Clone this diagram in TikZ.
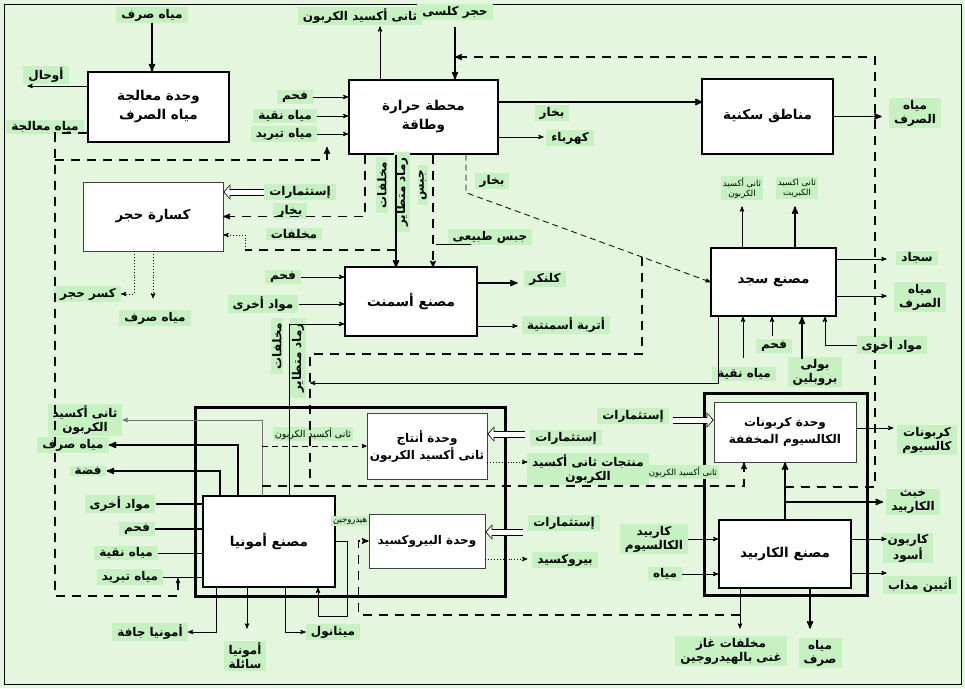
\documentclass[tikz,border=0pt]{standalone}
\usepackage{fontspec}
\newfontfamily\arabicfont[Script=Arabic]{DejaVu Sans}
\TeXXeTstate=1
\usetikzlibrary{arrows,arrows.meta}
\definecolor{bggreen}{RGB}{228,246,222}
\definecolor{lblgreen}{RGB}{198,242,194}
\newcommand{\arx}[1]{\beginR#1\endR}

\begin{document}
\begin{tikzpicture}[x=1pt,y=-1pt,>=stealth',
  plant/.style={draw,fill=white,line width=1.3pt,align=center,font=\arabicfont\bfseries\fontsize{13.5}{19}\selectfont},
  unit/.style={plant,line width=0.7pt,draw=black!75,inner xsep=2pt,font=\arabicfont\bfseries\fontsize{12}{17}\selectfont},
  cplx/.style={draw,line width=3pt},
  lbl/.style={fill=lblgreen,inner xsep=5pt,inner ysep=1.5pt,align=center,font=\arabicfont\bfseries\fontsize{12}{14}\selectfont},
  slbl/.style={lbl,inner xsep=2pt,font=\arabicfont\fontsize{8.5}{10}\selectfont},
  flow/.style={line width=0.9pt},
  heavy/.style={line width=1.6pt},
  ddash/.style={line width=1.4pt,dash pattern=on 9pt off 7pt},
  tdash/.style={line width=0.8pt,dash pattern=on 6pt off 4pt},
  dots/.style={line width=0.9pt,dotted},
  hollow/.style={line width=7pt,-{Triangle[length=7pt,width=15pt]},
    postaction={draw=white,line width=5pt,shorten >=1.2pt,-{Triangle[length=5pt,width=11.5pt]}}}]

  \useasboundingbox (0,0) rectangle (965,688);
  \fill[bggreen] (0,0) rectangle (965,688);
  \draw[line width=0.8pt] (4,4) rectangle (961,684);

  % the two plant groups
  \node[cplx,minimum width=310pt,minimum height=189pt] (ammcx) at (350,501.5) {};
  \node[cplx,minimum width=163pt,minimum height=202pt] (carbcx) at (785.5,494) {};

  % plants and units
  \node[plant,minimum width=141pt,minimum height=70pt] (wwt) at (158.5,107) {\arx{وحدة معالجة}\\\arx{مياه الصرف}};
  \node[plant,minimum width=149pt,minimum height=74pt] (ps) at (423.5,117) {\arx{محطة حرارة}\\\arx{وطاقة}};
  \node[plant,minimum width=131pt,minimum height=75pt] (res) at (767.5,116.5) {\arx{مناطق سكنية}};
  \node[unit,minimum width=140pt,minimum height=69pt,font=\arabicfont\bfseries\fontsize{13.5}{19}\selectfont] (crush) at (153,216.5) {\arx{كسارة حجر}};
  \node[plant,minimum width=132pt,minimum height=69pt] (cem) at (411,301.5) {\arx{مصنع أسمنت}};
  \node[plant,minimum width=125pt,minimum height=68pt] (sajd) at (773.5,282) {\arx{مصنع سجد}};
  \node[plant,minimum width=132pt,minimum height=91pt] (amm) at (269,541.5) {\arx{مصنع أمونيا}};
  \node[unit,minimum width=120pt,minimum height=66pt] (co2u) at (427,446) {\arx{وحدة أنتاج}\\\arx{ثانى أكسيد الكربون}};
  \node[unit,minimum width=116pt,minimum height=54pt] (peru) at (427,541) {\arx{وحدة البيروكسيد}};
  \node[unit,minimum width=142pt,minimum height=60pt] (carbu) at (785,432) {\arx{وحدة كربونات}\\\arx{الكالسيوم المخففة}};
  \node[plant,minimum width=132pt,minimum height=68pt] (carbide) at (785,554) {\arx{مصنع الكاربيد}};

  % labels
  \node[lbl] (l-wwin) at (152,15) {\arx{مياه صرف}};
  \node[lbl] (l-sludge) at (46,75) {\arx{أوحال}};
  \node[lbl] (l-treat) at (45,127) {\arx{مياه معالجة}};
  \node[lbl] (l-co2top) at (360,16) {\arx{ثانى أكسيد الكربون}};
  \node[lbl] (l-lime) at (455,12) {\arx{حجر كلسى}};
  \node[lbl] (l-pscoal) at (295,97) {\arx{فحم}};
  \node[lbl] (l-pspure) at (285,116) {\arx{مياه نقية}};
  \node[lbl] (l-pscool) at (284,134) {\arx{مياه تبريد}};
  \node[lbl] (l-steam) at (552,113) {\arx{بخار}};
  \node[lbl] (l-elec) at (570,138) {\arx{كهرباء}};
  \node[lbl] (l-resww) at (915,113) {\arx{مياه}\\\arx{الصرف}};
  \node[lbl] (l-steam2) at (492,181) {\arx{بخار}};
  \node[lbl] (l-crinv) at (300,192) {\arx{إستثمارات}};
  \node[lbl] (l-crsteam) at (290,211) {\arx{بخار}};
  \node[lbl] (l-crwaste) at (294,234) {\arx{مخلفات}};
  \node[lbl] (l-gravel) at (88,294) {\arx{كسر حجر}};
  \node[lbl] (l-crww) at (155,318) {\arx{مياه صرف}};
  \node[lbl,rotate=90] (l-vwaste) at (382,185) {\arx{مخلفات}};
  \node[lbl,rotate=90] (l-vash) at (402,192) {\arx{رماد متطاير}};
  \node[lbl,rotate=90] (l-vgyp) at (423,185) {\arx{جبس}};
  \node[lbl] (l-natgyp) at (490,237) {\arx{جبس طبيعى}};
  \node[lbl] (l-cemcoal) at (283,277) {\arx{فحم}};
  \node[lbl] (l-cemoth) at (263,304) {\arx{مواد أخرى}};
  \node[lbl] (l-clinker) at (545,279) {\arx{كلنكر}};
  \node[lbl] (l-dust) at (566,325) {\arx{أتربة أسمنتية}};
  \node[slbl] (l-sjco2) at (742,188) {\arx{ثانى أكسيد}\\\arx{الكربون}};
  \node[slbl] (l-sjso2) at (797,188) {\arx{ثانى اكسيد}\\\arx{الكبريت}};
  \node[lbl] (l-carpet) at (917,258) {\arx{سجاد}};
  \node[lbl] (l-sjww) at (920,297) {\arx{مياه}\\\arx{الصرف}};
  \node[lbl] (l-sjoth) at (892,345) {\arx{مواد أخرى}};
  \node[lbl] (l-sjcoal) at (774,346) {\arx{فحم}};
  \node[lbl] (l-sjpp) at (815,372) {\arx{بولى}\\\arx{بروبلين}};
  \node[lbl] (l-sjpure) at (744,374) {\arx{مياه نقية}};
  \node[lbl] (l-amco2) at (85,420) {\arx{ثانى أكسيد}\\\arx{الكربون}};
  \node[lbl] (l-amww) at (73,445) {\arx{مياه صرف}};
  \node[lbl] (l-silver) at (88,471) {\arx{فضة}};
  \node[lbl] (l-amoth) at (120,504) {\arx{مواد أخرى}};
  \node[lbl] (l-amcoal) at (137,529) {\arx{فحم}};
  \node[lbl] (l-ampure) at (126,553) {\arx{مياه نقية}};
  \node[lbl] (l-amcool) at (130,577) {\arx{مياه تبريد}};
  \node[lbl] (l-dryam) at (150,632) {\arx{أمونيا جافة}};
  \node[lbl] (l-liqam) at (245,656) {\arx{أمونيا}\\\arx{سائلة}};
  \node[lbl] (l-meth) at (333,632) {\arx{ميثانول}};
  \node[slbl] (l-h2) at (350,521) {\arx{هيدروجين}};
  \node[lbl,rotate=90] (l-amvwaste) at (277,346) {\arx{مخلفات}};
  \node[lbl,rotate=90] (l-amvash) at (298,358) {\arx{رماد متطاير}};
  \node[slbl,font=\arabicfont\fontsize{9.5}{11}\selectfont] (l-co2s) at (313,434) {\arx{ثانى أكسيد الكربون}};
  \node[lbl] (l-co2inv) at (566,438) {\arx{إستثمارات}};
  \node[lbl] (l-co2prod) at (588,469) {\arx{منتجات ثانى أكسيد}\\\arx{الكربون}};
  \node[slbl,font=\arabicfont\fontsize{8.5}{10}\selectfont] (l-co2s2) at (683,472) {\arx{ثانى أكسيد الكربون}};
  \node[lbl] (l-cbinv) at (633,416) {\arx{إستثمارات}};
  \node[lbl] (l-perinv) at (564,523) {\arx{إستثمارات}};
  \node[lbl] (l-perox) at (565,560) {\arx{بيروكسيد}};
  \node[lbl] (l-cac2) at (654,539) {\arx{كاربيد}\\\arx{الكالسيوم}};
  \node[lbl] (l-water) at (665,574) {\arx{مياه}};
  \node[lbl] (l-cblack) at (908,548) {\arx{كاربون}\\\arx{أسود}};
  \node[lbl] (l-acet) at (920,585) {\arx{أثيين مذاب}};
  \node[lbl] (l-slag) at (913,502) {\arx{خبث}\\\arx{الكاربيد}};
  \node[lbl] (l-caco3) at (927,440) {\arx{كربونات}\\\arx{كالسيوم}};
  \node[lbl] (l-h2gas) at (731,651) {\arx{مخلفات غاز}\\\arx{غنى بالهيدروجين}};
  \node[lbl] (l-cbww) at (820,653) {\arx{مياه}\\\arx{صرف}};

  % bends and free ends
  \coordinate (tw1) at (55,133);
  \coordinate (tw2) at (55,596);
  \coordinate (tw3) at (178,582);
  \coordinate (tw4) at (55,160);
  \coordinate (tw5) at (327,147);
  \coordinate (cw1) at (245,250);
  \coordinate (cw2) at (396,250);
  \coordinate (st1) at (642,257);
  \coordinate (st2) at (310,354);
  \coordinate (st3) at (310,486);
  \coordinate (sjo) at (310,383);
  \coordinate (cd0) at (262,446);
  \coordinate (cd1) at (262,486);
  \coordinate (cd2) at (744,486);
  \coordinate (hh) at (740,615);
  \coordinate (hl) at (347,616);
  \coordinate (sl) at (785,502);
  \coordinate (lp1) at (785,487);
  \coordinate (lp2) at (875,57);

  % waste water treatment
  \draw[->,heavy] (l-wwin.south) -- (l-wwin.south |- wwt.north);
  \draw[->,flow] ([yshift=21pt]wwt.west) -- ++(-60,0);
  \draw[ddash] ([yshift=-26pt]wwt.west) -- (tw1) -- (tw2) -| (tw3);
  \draw[->,flow] (tw3) -- ++(0,-4);
  \draw[->,ddash] (tw4) -| (tw5);

  % heat and power station
  \draw[->,flow] ([xshift=-43.5pt]ps.north) -- ++(0,-53);
  \draw[->,heavy] ([xshift=31.5pt]ps.north) ++(0,-52) -- ([xshift=31.5pt]ps.north);
  \draw[->,flow] (l-pscoal.east) -- (l-pscoal.east -| ps.west);
  \draw[->,flow] (l-pspure.east) -- (l-pspure.east -| ps.west);
  \draw[->,flow] (l-pscool.east) -- (l-pscool.east -| ps.west);
  \draw[->,heavy] ([yshift=15pt]ps.east) -- ++(204,0);
  \draw[->,flow] ([yshift=-20pt]ps.east) -- ++(45,0);
  \draw[->,heavy] (res.east) -- ++(48,0);
  \draw[->,ddash] ([xshift=-58.5pt]ps.south) |- (crush.east);
  \draw[->,heavy] ([xshift=-27.5pt]ps.south) -- ++(0,113);
  \draw[->,ddash] ([xshift=9.5pt]ps.south) -- ++(0,113);
  \draw[flow] ([xshift=-19pt]l-natgyp.south) -- ++(-35,0);
  \draw[->,tdash] ([xshift=42.5pt]ps.south) -- ++(0,38) -- (sajd.west);

  % stone crusher
  \draw[ddash] (cw2) -- (cw1);
  \draw[->,dots] (cw1) |- ([yshift=-18.5pt]crush.east);
  \draw[hollow] (l-crinv.west) -- (l-crinv.west -| crush.east);
  \draw[->,dots] ([xshift=-19pt]crush.south) |- (l-gravel.east);
  \draw[->,dots] (crush.south) -- ++(0,47);

  % cement
  \draw[->,flow] (l-cemcoal.east) -- (l-cemcoal.east -| cem.west);
  \draw[->,flow] (l-cemoth.east) -- (l-cemoth.east -| cem.west);
  \draw[->,flow] ([xshift=20pt]amm.north) |- ([yshift=-22.5pt]cem.west);
  \draw[->,heavy] ([yshift=18.5pt]cem.east) -- ++(40,0);
  \draw[->,flow] ([yshift=-24.5pt]cem.east) -- ++(40,0);
  \draw[ddash] (st1) |- (st2) -- (st3);

  % carpet plant
  \draw[->,flow] ([xshift=-31.5pt]sajd.north) -- ++(0,-41);
  \draw[->,heavy] ([xshift=21.5pt]sajd.north) -- ++(0,-41);
  \draw[->,flow] ([yshift=23pt]sajd.east) -- ++(50,0);
  \draw[->,flow] ([yshift=-14pt]sajd.east) -- ++(50,0);
  \draw[->,flow] ([xshift=-30.5pt]sajd.south) ++(0,41) -- ([xshift=-30.5pt]sajd.south);
  \draw[->,flow] ([xshift=-1.5pt]sajd.south) ++(0,19) -- ([xshift=-1.5pt]sajd.south);
  \draw[->,heavy] ([xshift=28.5pt]sajd.south) ++(0,42) -- ([xshift=28.5pt]sajd.south);
  \draw[->,flow] (l-sjoth.west) -| ([xshift=51.5pt]sajd.south);
  \draw[->,flow] ([xshift=-55.5pt]sajd.south) |- (sjo);

  % ammonia plant
  \draw[->,flow,black!55] ([xshift=-7pt]amm.north) |- (l-amco2.east);
  \draw[->,heavy] ([xshift=-31pt]amm.north) |- (l-amww.east);
  \draw[->,heavy] ([xshift=-49pt]amm.north) |- (l-silver.east);
  \draw[heavy] (l-amoth.east) -- (l-amoth.east -| amm.west);
  \draw[heavy] (l-amcoal.east) -- (l-amcoal.east -| amm.west);
  \draw[flow] (l-ampure.east) -- (l-ampure.east -| amm.west);
  \draw[flow] (l-amcool.east) -- (l-amcool.east -| amm.west);
  \draw[->,flow] ([xshift=-53pt]amm.south) |- (l-dryam.east);
  \draw[->,flow] ([xshift=-22pt]amm.south) -- ++(0,41);
  \draw[->,flow] ([xshift=16pt]amm.south) |- (l-meth.west);
  \draw[->,flow] (amm.east) -| (hl) -| ([xshift=49pt]amm.south);

  % carbon dioxide and peroxide units
  \draw[->,tdash] (cd0) -- (co2u.west);
  \draw[->,ddash] (cd1) -- (cd2) -- ([xshift=-41pt]carbu.south);
  \draw[hollow] ([xshift=38pt,yshift=12pt]co2u.east) -- ([yshift=12pt]co2u.east);
  \draw[->,dots] ([yshift=-16pt]co2u.east) -- ++(40,0);
  \draw[hollow] ([xshift=38pt,yshift=9pt]peru.east) -- ([yshift=9pt]peru.east);
  \draw[->,dots] ([yshift=-18pt]peru.east) -- ++(42,0);
  \draw[->,ddash] (hh) -| ([xshift=-10pt]peru.west) -- (peru.west);

  % calcium carbonate and carbide
  \draw[hollow] ([xshift=-41pt,yshift=12pt]carbu.west) -- ([yshift=12pt]carbu.west);
  \draw[->,flow] ([yshift=4pt]carbu.east) -- ++(37,0);
  \draw[->,heavy] (carbide.north) -- (carbu.south);
  \draw[->,heavy] (sl) -- ++(98,0);
  \draw[->,ddash] (lp1) -| (lp2) -- (lp2 -| l-lime);
  \draw[->,flow] (l-cac2.east) -- (l-cac2.east -| carbide.west);
  \draw[->,flow] (l-water.east) -- (l-water.east -| carbide.west);
  \draw[->,flow] ([yshift=15pt]carbide.east) -- ++(35,0);
  \draw[->,flow] ([yshift=-19pt]carbide.east) -- ++(35,0);
  \draw[->,flow] ([xshift=-45pt]carbide.south) -- ++(0,40);
  \draw[->,heavy] ([xshift=25pt]carbide.south) -- ++(0,40);
\end{tikzpicture}
\end{document}
